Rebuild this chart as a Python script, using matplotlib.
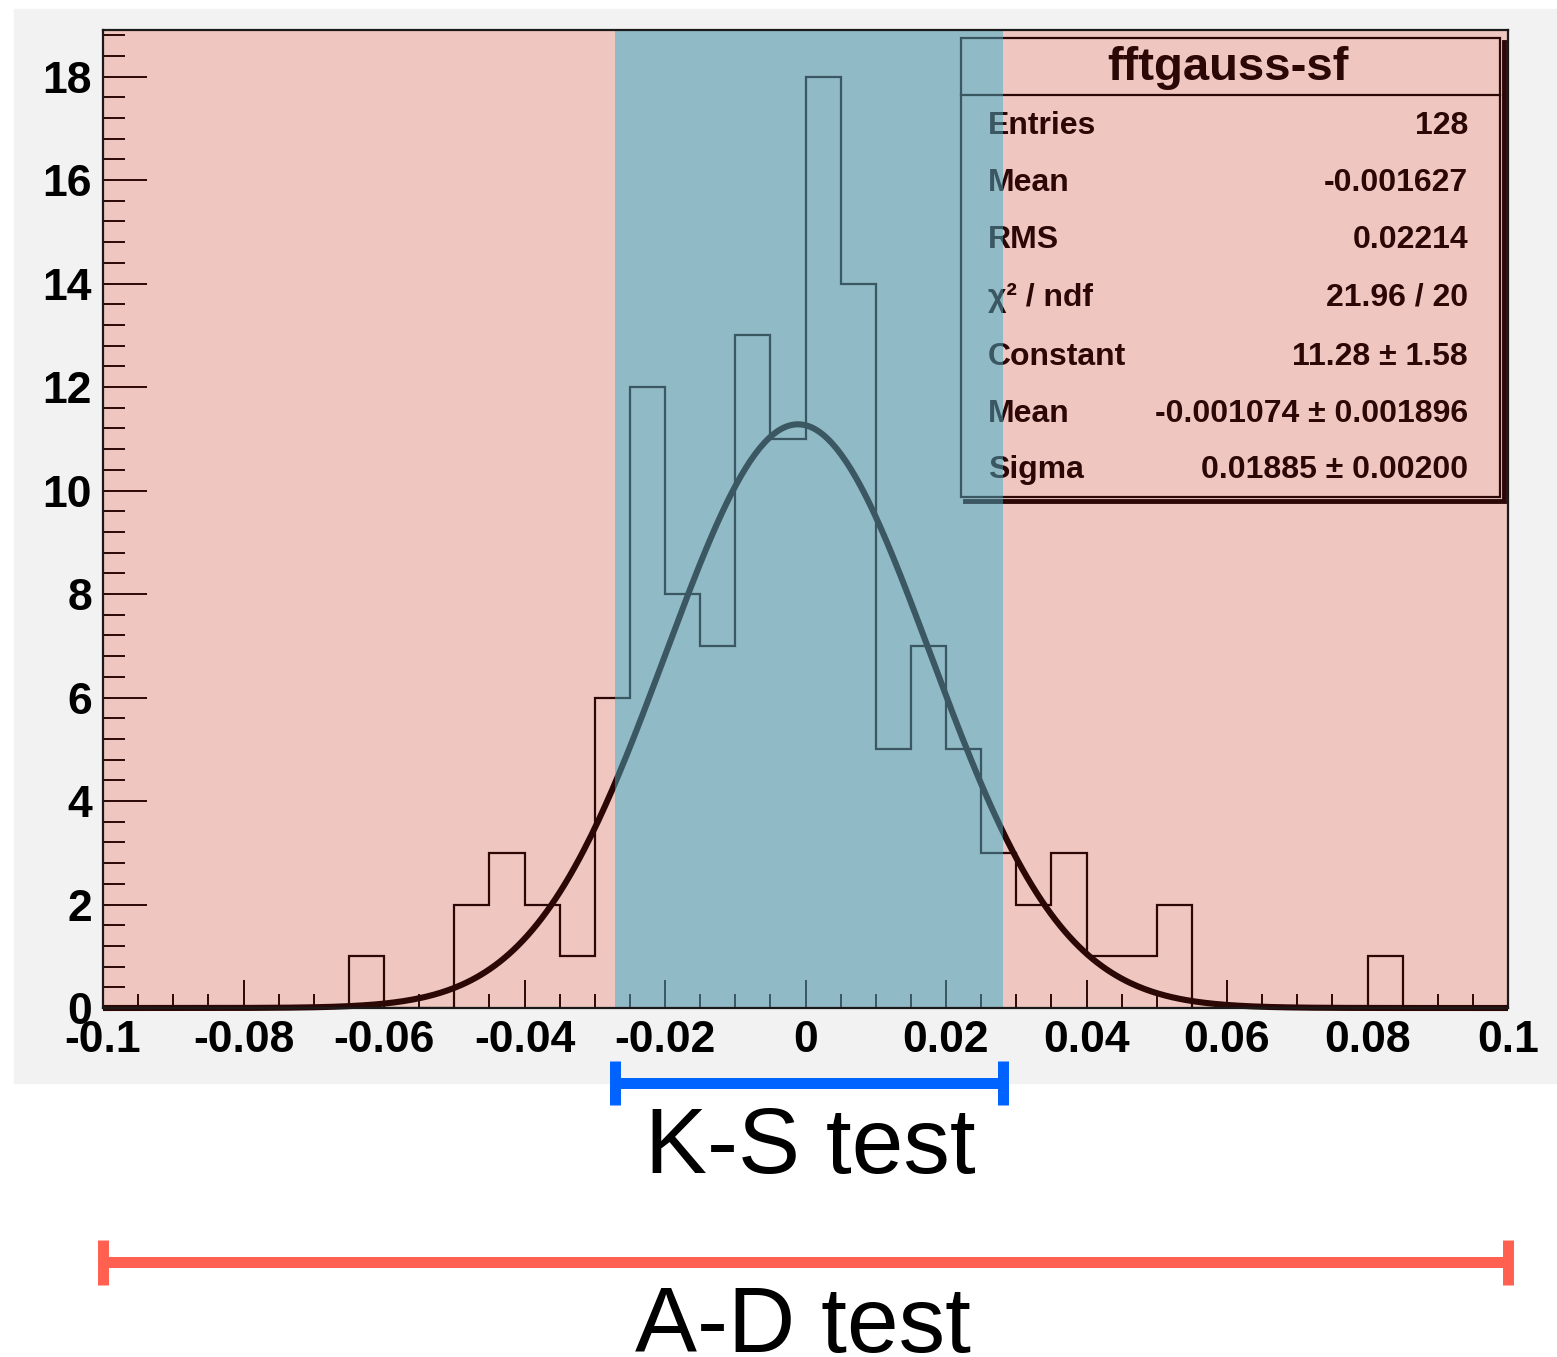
import numpy as np
import matplotlib
matplotlib.use("Agg")
import matplotlib.pyplot as plt
from matplotlib.patches import Rectangle
from matplotlib.transforms import blended_transform_factory

plt.rcParams['axes.unicode_minus'] = False

#%% data
# histogram: 40 bins of width 0.005 between -0.1 and 0.1
x_range = (-0.1, 0.1)
counts = [0, 0, 0, 0, 0, 0, 0, 1, 0, 0,
          2, 3, 2, 1, 6, 12, 8, 7, 13, 11,
          18, 14, 5, 7, 5, 3, 2, 3, 1, 1,
          2, 0, 0, 0, 0, 0, 1, 0, 0, 0]

# gaussian fit parameters
fit_const = 11.28
fit_mean = -0.001074
fit_sigma = 0.01885

# range covered by each test
ks_range = (-0.0271, 0.0281)
ad_range = (-0.1, 0.1)

x_ticks = [-0.1, -0.08, -0.06, -0.04, -0.02, 0, 0.02, 0.04, 0.06, 0.08, 0.1]
x_ticklabels = ['-0.1', '-0.08', '-0.06', '-0.04', '-0.02', '0',
                '0.02', '0.04', '0.06', '0.08', '0.1']
y_ticks = [0, 2, 4, 6, 8, 10, 12, 14, 16, 18]

stat_names = ['Entries', 'Mean', 'RMS', 'χ² / ndf', 'Constant', 'Mean', 'Sigma']
stat_values = ['128', '-0.001627', '0.02214', '21.96 / 20', '11.28 ± 1.58',
               '-0.001074 ± 0.001896', '0.01885 ± 0.00200']

#%% colours
ink = '#2b0806'
pink = '#f0c6c0'
blue = '#468ca0'
grey_bg = '#f2f2f2'
ks_color = '#0062ff'
ad_color = '#ff6050'

#%% figure
W, H = 1557, 1357
fig = plt.figure(figsize=(W / 100, H / 100), dpi=100)
fig.patches.append(Rectangle((14 / W, (H - 1083) / H), (W - 14) / W, (1083 - 9) / H,
                             transform=fig.transFigure, color=grey_bg, zorder=-1))

ax = fig.add_axes([103 / W, (H - 1008) / H, (1508 - 103) / W, (1008 - 30) / H])
ax.set_facecolor(pink)
ax.set_xlim(*x_range)
ax.set_ylim(0, 18.9)

# band for K-S test: white under, translucent blue over everything
ax.axvspan(*ks_range, color='white', lw=0, zorder=0.5)
ax.axvspan(*ks_range, color=blue, alpha=0.6, lw=0, zorder=5)

# histogram
edges = np.linspace(x_range[0], x_range[1], len(counts) + 1)
ax.stairs(counts, edges, color=ink, lw=1.6, zorder=2)

# gaussian fit
xs = np.linspace(x_range[0], x_range[1], 600)
ys = fit_const * np.exp(-0.5 * ((xs - fit_mean) / fit_sigma) ** 2)
ax.plot(xs, ys, color=ink, lw=4.4, zorder=3, clip_on=False, solid_capstyle='butt')

# ticks
ax.set_xticks(x_ticks)
ax.set_xticklabels(x_ticklabels)
ax.set_xticks(np.arange(-0.095, 0.1, 0.005), minor=True)
ax.set_yticks(y_ticks)
ax.set_yticks(np.arange(0.4, 18.9, 0.4), minor=True)
tick_font = {'family': 'Liberation Sans', 'weight': 'bold', 'size': 32}
for lab in ax.get_xticklabels() + ax.get_yticklabels():
    lab.set_fontproperties(matplotlib.font_manager.FontProperties(**tick_font))
ax.tick_params(axis='x', which='major', direction='in', length=20, width=1.4,
               color=ink, pad=9)
ax.tick_params(axis='x', which='minor', direction='in', length=10, width=1.4, color=ink)
ax.tick_params(axis='y', which='major', direction='in', length=31.5, width=1.4,
               color=ink, pad=8)
ax.tick_params(axis='y', which='minor', direction='in', length=15.8, width=1.4, color=ink)

for s in ax.spines.values():
    s.set_color('#1a1a1a')
    s.set_linewidth(1.6)
    s.set_zorder(6)

#%% stats box
bx0, bx1 = 0.611, 0.994
by0, by1 = 0.5225, 0.992
ax.add_patch(Rectangle((bx0, by0), bx1 - bx0, by1 - by0, transform=ax.transAxes,
                       fill=False, edgecolor=ink, lw=1.6, zorder=4))
# shadow on the right and bottom sides
dx, dy = 4 / 1405, 4 / 978
ax.plot([bx0 + dx, bx1 + dx, bx1 + dx], [by0 - dy, by0 - dy, by1 - dy],
        transform=ax.transAxes, color=ink, lw=3.5, zorder=4, solid_joinstyle='miter')
ax.plot([bx0, bx1], [0.9335, 0.9335], transform=ax.transAxes, color=ink, lw=1.6, zorder=4)
ax.text(0.8007, 0.961, 'fftgauss-sf', transform=ax.transAxes, ha='center', va='center',
        family='Liberation Sans', weight='bold', size=34, color=ink, zorder=4)

row_y = [126, 183, 240, 298, 357, 414, 470]
for name, val, py in zip(stat_names, stat_values, row_y):
    yf = (1008 - py) / 978
    ax.text(0.630, yf, name, transform=ax.transAxes, ha='left', va='center',
            family='Liberation Sans', weight='bold', size=23, color=ink, zorder=4)
    ax.text(0.9715, yf, val, transform=ax.transAxes, ha='right', va='center',
            family='Liberation Sans', weight='bold', size=23, color=ink, zorder=4)

#%% brackets for the test ranges
tr = blended_transform_factory(ax.transData, fig.transFigure)


def bracket(x0, x1, y, half, color):
    ax.plot([x0, x1], [y, y], transform=tr, color=color, lw=7.9,
            solid_capstyle='butt', clip_on=False, zorder=7)
    for xe in (x0, x1):
        ax.plot([xe, xe], [y - half, y + half], transform=tr, color=color, lw=7.9,
                solid_capstyle='butt', clip_on=False, zorder=7)


bracket(ks_range[0], ks_range[1], (H - 1083) / H, 22 / H, ks_color)
bracket(ad_range[0], ad_range[1], (H - 1262) / H, 22.5 / H, ad_color)

fig.text(810 / W, (H - 1173) / H, 'K-S test', ha='center', va='baseline',
         family='Liberation Sans', size=67, color='black')
fig.text(803 / W, (H - 1352) / H, 'A-D test', ha='center', va='baseline',
         family='Liberation Sans', size=67, color='black')

fig.savefig('out.png', dpi=100)
